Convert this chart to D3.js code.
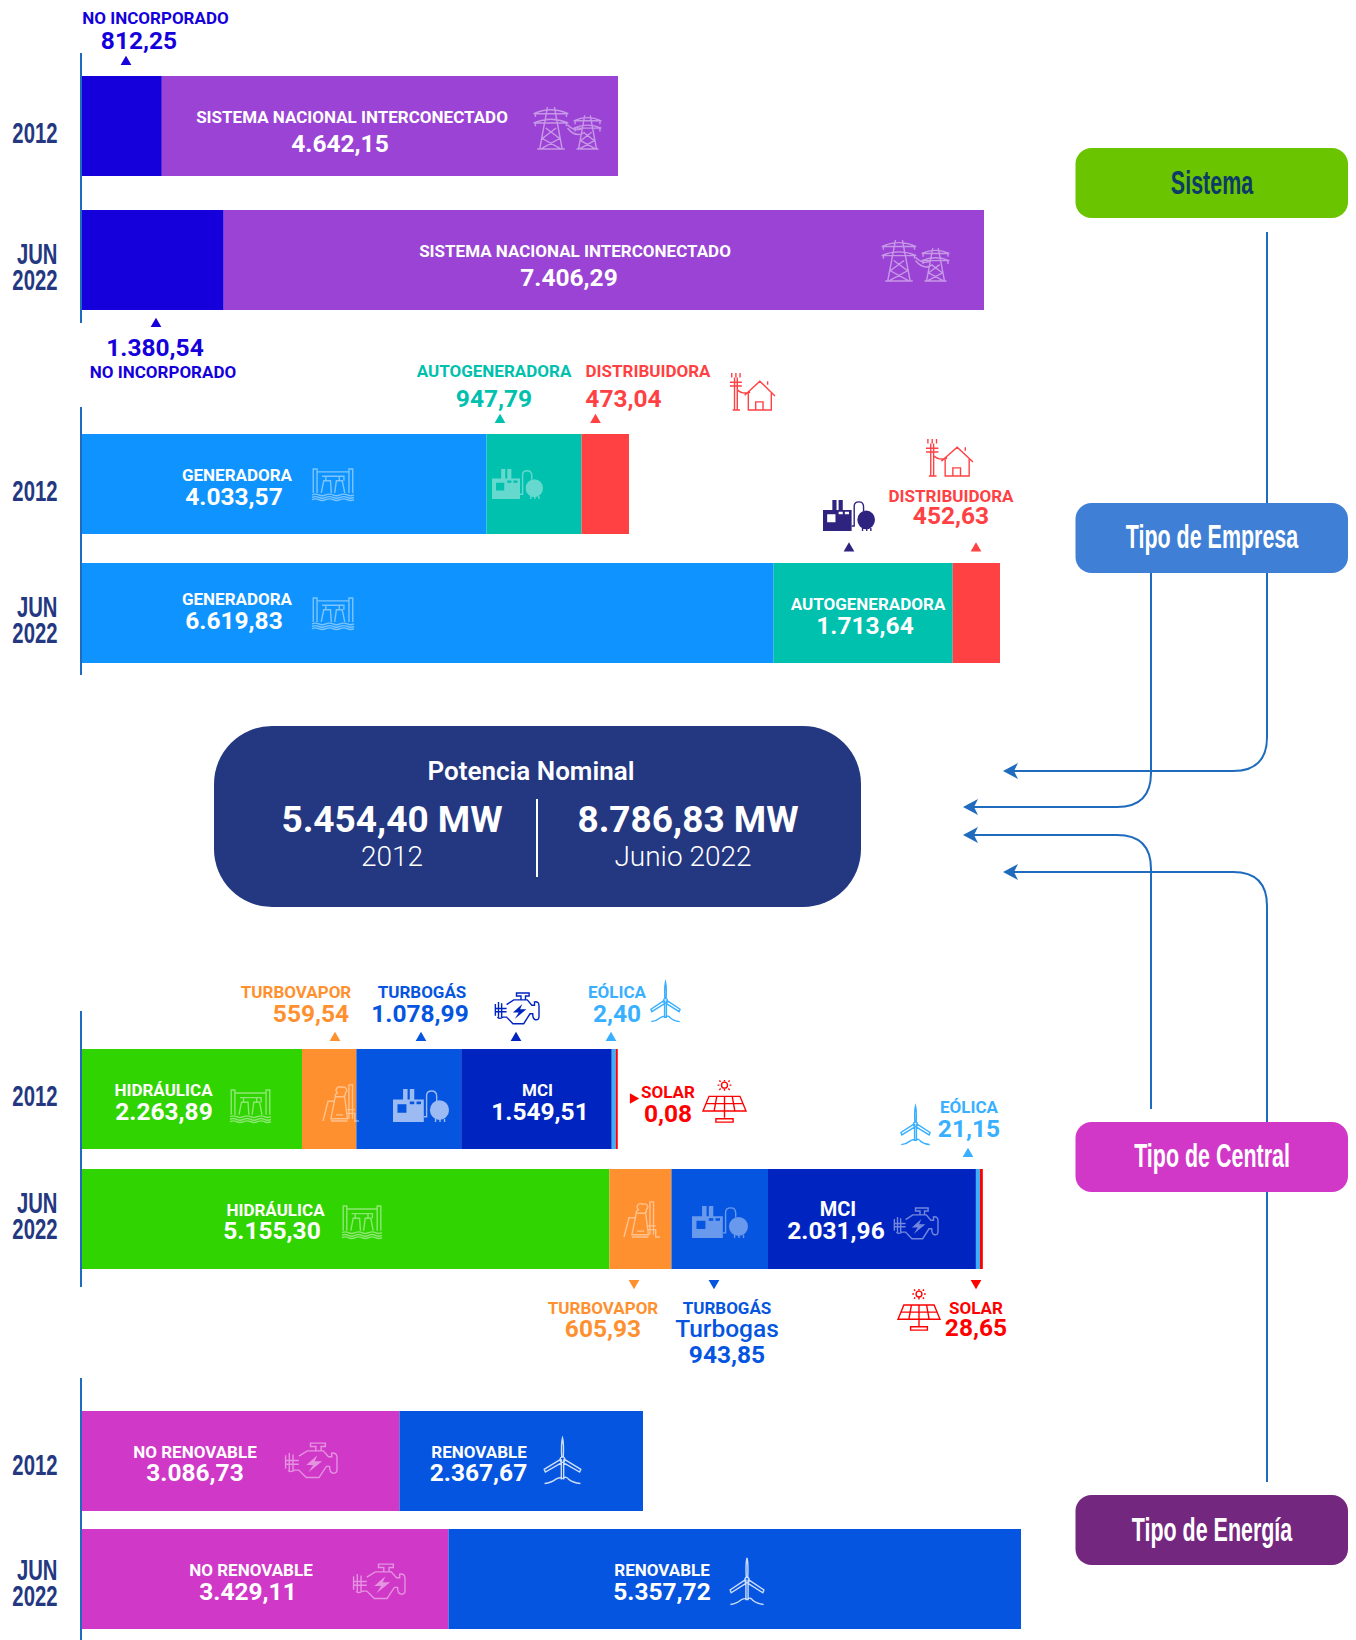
<!DOCTYPE html>
<html>
<head>
<meta charset="utf-8">
<script src="https://cdn.jsdelivr.net/npm/d3@7"></script>
<style>
    body { margin: 0; background: #fff; }
    text { font-family: Roboto, sans-serif; }
    .narrow { font-family: "Liberation Sans", sans-serif; font-weight: 700; }
</style>
</head>
<body>
<div id="chart"></div>
<script>
// values as printed on the chart (MW)
const years = ["2012", "JUN 2022"];
const totalLabels = ["2012", "Junio 2022"];
const totals = [5454.40, 8786.83];

const sistemaCats = ["NO INCORPORADO", "SISTEMA NACIONAL INTERCONECTADO"];
const sistema2012 = [812.25, 4642.15];
const sistema2022 = [1380.54, 7406.29];

const empresaCats = ["GENERADORA", "AUTOGENERADORA", "DISTRIBUIDORA"];
const empresa2012 = [4033.57, 947.79, 473.04];
const empresa2022 = [6619.83, 1713.64, 452.63];

const centralCats = ["HIDRÁULICA", "TURBOVAPOR", "TURBOGÁS", "MCI", "EÓLICA", "SOLAR"];
const central2012 = [2263.89, 559.54, 1078.99, 1549.51, 2.40, 0.08];
const central2022 = [5155.30, 605.93, 943.85, 2031.96, 21.15, 28.65];

const energiaCats = ["NO RENOVABLE", "RENOVABLE"];
const energia2012 = [3086.73, 2367.67];
const energia2022 = [3429.11, 5357.72];

const buttonLabels = ["Sistema", "Tipo de Empresa", "Tipo de Central", "Tipo de Energía"];

// dimensional constants
const svgwidth = 1356;
const svgheight = 1640;
const barLeft = 82;
const barHeight = 100;

const navy = "#243882";
const lineBlue = "#1f6bbd";
const colors = {
    "NO INCORPORADO": "#1500dc", "SISTEMA NACIONAL INTERCONECTADO": "#9a43d4",
    "GENERADORA": "#0f94ff", "AUTOGENERADORA": "#00c0ae", "DISTRIBUIDORA": "#ff4144",
    "HIDRÁULICA": "#30d400", "TURBOVAPOR": "#ff9030", "TURBOGÁS": "#0555e0", "MCI": "#0024c0", "EÓLICA": "#38b0ff", "SOLAR": "#ff0000",
    "NO RENOVABLE": "#d038c8", "RENOVABLE": "#0555e0"
};
// the chart does not share one scale between rows, every row has its own length
const panels = [
    {cats: sistemaCats, rows: [sistema2012, sistema2022], y: [76, 310], axis: [53, 323], right: [618, 984], yearShift: 0},
    {cats: empresaCats, rows: [empresa2012, empresa2022], y: [434, 663], axis: [407, 675], right: [629, 1000], yearShift: 0},
    {cats: centralCats, rows: [central2012, central2022], y: [1049, 1269], axis: [1011, 1287], right: [612, 981], yearShift: -10},
    {cats: energiaCats, rows: [energia2012, energia2022], y: [1411, 1629], axis: [1378, 1640], right: [643, 1021], yearShift: -3}
];
// eolica and solar would be under a pixel wide in 2012, keep them visible
const minWidth = {"EÓLICA": 4, "SOLAR": 2};

const fmt = d3.formatLocale({decimal: ",", thousands: ".", grouping: [3], currency: ["", ""]}).format(",.2f");

const svg = d3.select("#chart").append("svg")
    .attr("width", svgwidth)
    .attr("height", svgheight);

// connector lines go under the buttons
const links = svg.append("g").attr("fill", "none").attr("stroke", lineBlue).attr("stroke-width", 2);
const linkPath = (x, y0, y1, tip, r) => {
    let dir = y1 > y0 ? 1 : -1;
    let path = d3.path();
    path.moveTo(x, y0);
    path.lineTo(x, y1 - dir * r);
    path.quadraticCurveTo(x, y1, x - r, y1);
    path.lineTo(tip + 8, y1);
    return path.toString();
};
const linkDefs = [
    [1267, 232, 771, 1003, 34],
    [1151, 573, 807, 963, 34],
    [1151, 1109, 835, 963, 34],
    [1267, 1482, 872, 1003, 34]
];
linkDefs.forEach(l => {
    links.append("path").attr("d", linkPath(l[0], l[1], l[2], l[3], l[4]));
    svg.append("path")
        .attr("d", "M0,0 L15,-8 L11,0 L15,8 Z")
        .attr("transform", `translate(${l[3]},${l[2]})`)
        .attr("fill", lineBlue);
});

// bars, one scale per row
panels.forEach(panel => {
    let yScale = d3.scaleBand()
        .domain(years)
        .range(panel.y)
        .paddingInner(1 - barHeight / ((panel.y[1] - panel.y[0] - barHeight)));

    panel.rows.forEach((values, r) => {
        let xScale = d3.scaleLinear()
            .domain([0, d3.sum(values)])
            .range([barLeft, panel.right[r]]);
        let x = barLeft;
        let segs = values.map((v, i) => {
            let w = Math.max(xScale(v) - barLeft, minWidth[panel.cats[i]] || 0);
            let s = {cat: panel.cats[i], x: x, w: w};
            x += w;
            return s;
        });
        svg.append("g").selectAll("rect")
            .data(segs)
            .enter().append("rect")
            .attr("x", d => d.x)
            .attr("y", yScale(years[r]))
            .attr("width", d => d.w)
            .attr("height", yScale.bandwidth())
            .attr("fill", d => colors[d.cat]);
    });

    // year axis
    let axis = svg.append("g")
        .attr("transform", `translate(${barLeft - 1},0)`)
        .call(d3.axisLeft(yScale).tickSize(0).tickPadding(25));
    axis.select(".domain").remove();
    axis.selectAll("text").each(function (d) {
        let t = d3.select(this).text(null)
            .attr("class", "narrow")
            .attr("fill", navy)
            .style("font-size", "29px")
            .attr("dy", null)
            .attr("x", null);
        let parts = d.split(" ");
        t.attr("transform", `translate(-23.5,${panel.yearShift}) scale(0.7,1)`);
        parts.forEach((p, i) => {
            t.append("tspan")
                .attr("x", 0)
                .attr("y", (parts.length == 1 ? 17 : 4 + i * 26))
                .text(p);
        });
    });
    svg.append("line")
        .attr("x1", barLeft - 1).attr("x2", barLeft - 1)
        .attr("y1", panel.axis[0]).attr("y2", panel.axis[1])
        .attr("stroke", lineBlue).attr("stroke-width", 2);
});

// text helper
function label(txt, x, y, color, size, weight) {
    svg.append("text")
        .text(txt)
        .attr("x", x)
        .attr("y", y)
        .attr("text-anchor", "middle")
        .attr("fill", color)
        .style("font-size", size + "px")
        .style("font-weight", weight);
}
const catSize = 17, valSize = 24.5;
const catLabel = (cat, x, y, color) => label(cat, x, y, color, catSize, 700);
const valLabel = (v, x, y, color) => label(fmt(v), x, y, color, valSize, 700);
const white = "#fff";

function tri(x, y, color, rot) {
    svg.append("path")
        .attr("d", d3.symbol().type(d3.symbolTriangle).size(50)())
        .attr("transform", `translate(${x},${y}) rotate(${rot || 0})`)
        .attr("fill", color);
}

// sistema
catLabel(sistemaCats[0], 155.5, 24, colors[sistemaCats[0]]);
valLabel(sistema2012[0], 139, 49, colors[sistemaCats[0]]);
tri(126, 62, colors[sistemaCats[0]]);
catLabel(sistemaCats[1], 352, 123, white);
valLabel(sistema2012[1], 340, 152, white);
catLabel(sistemaCats[1], 575, 257, white);
valLabel(sistema2022[1], 569, 286, white);
tri(156, 324, colors[sistemaCats[0]]);
valLabel(sistema2022[0], 155, 356, colors[sistemaCats[0]]);
catLabel(sistemaCats[0], 163, 378, colors[sistemaCats[0]]);

// empresa
catLabel(empresaCats[1], 494, 377, colors[empresaCats[1]]);
valLabel(empresa2012[1], 494, 407, colors[empresaCats[1]]);
tri(500, 420, colors[empresaCats[1]]);
catLabel(empresaCats[2], 648, 377, colors[empresaCats[2]]);
valLabel(empresa2012[2], 623.5, 407, colors[empresaCats[2]]);
tri(595.5, 420, colors[empresaCats[2]]);
catLabel(empresaCats[0], 237, 481, white);
valLabel(empresa2012[0], 234, 505, white);
catLabel(empresaCats[0], 237, 605, white);
valLabel(empresa2022[0], 234, 629, white);
catLabel(empresaCats[1], 868, 610, white);
valLabel(empresa2022[1], 865, 634, white);
tri(849, 548.5, "#2e2480");
catLabel(empresaCats[2], 951, 502, colors[empresaCats[2]]);
valLabel(empresa2022[2], 951, 524, colors[empresaCats[2]]);
tri(976, 548.5, colors[empresaCats[2]]);

// central, 2012
catLabel(centralCats[0], 163.5, 1096, white);
valLabel(central2012[0], 164, 1120, white);
catLabel(centralCats[1], 296, 998, colors[centralCats[1]]);
valLabel(central2012[1], 311, 1022, colors[centralCats[1]]);
tri(335, 1038, colors[centralCats[1]]);
catLabel(centralCats[2], 422, 998, colors[centralCats[2]]);
valLabel(central2012[2], 420, 1022, colors[centralCats[2]]);
tri(421, 1038, colors[centralCats[2]]);
tri(516, 1038, colors[centralCats[3]]);
catLabel(centralCats[3], 537.5, 1096, white);
valLabel(central2012[3], 540, 1120, white);
catLabel(centralCats[4], 617, 998, colors[centralCats[4]]);
valLabel(central2012[4], 617, 1022, colors[centralCats[4]]);
tri(611, 1038, colors[centralCats[4]]);
tri(633, 1098.5, colors[centralCats[5]], 90);
catLabel(centralCats[5], 668, 1098, colors[centralCats[5]]);
valLabel(central2012[5], 668, 1122, colors[centralCats[5]]);

// central, 2022
catLabel(centralCats[0], 275.5, 1216, white);
valLabel(central2022[0], 272, 1239, white);
label(centralCats[3], 838, 1216, white, 20, 700);
valLabel(central2022[3], 836, 1239, white);
catLabel(centralCats[4], 969, 1113, colors[centralCats[4]]);
valLabel(central2022[4], 969, 1137, colors[centralCats[4]]);
tri(968, 1154, colors[centralCats[4]]);
tri(634, 1283, colors[centralCats[1]], 180);
catLabel(centralCats[1], 603, 1314, colors[centralCats[1]]);
valLabel(central2022[1], 603, 1337, colors[centralCats[1]]);
tri(714, 1283, colors[centralCats[2]], 180);
catLabel(centralCats[2], 727, 1314, colors[centralCats[2]]);
label("Turbogas", 727, 1337, colors[centralCats[2]], valSize, 500);
valLabel(central2022[2], 727, 1363, colors[centralCats[2]]);
tri(976, 1283, colors[centralCats[5]], 180);
catLabel(centralCats[5], 976, 1314, colors[centralCats[5]]);
valLabel(central2022[5], 976, 1336, colors[centralCats[5]]);

// energia
catLabel(energiaCats[0], 195, 1458, white);
valLabel(energia2012[0], 195, 1481, white);
catLabel(energiaCats[1], 479, 1458, white);
valLabel(energia2012[1], 478.5, 1481, white);
catLabel(energiaCats[0], 251, 1576, white);
valLabel(energia2022[0], 248, 1600, white);
catLabel(energiaCats[1], 662, 1576, white);
valLabel(energia2022[1], 662, 1600, white);

// central box
svg.append("rect")
    .attr("x", 214).attr("y", 726)
    .attr("width", 647).attr("height", 181)
    .attr("rx", 58).attr("ry", 58)
    .attr("fill", navy);
svg.append("line")
    .attr("x1", 537).attr("x2", 537)
    .attr("y1", 799).attr("y2", 877)
    .attr("stroke", white).attr("stroke-width", 2);
label("Potencia Nominal", 531, 780, white, 26, 600);
label(fmt(totals[0]) + " MW", 392, 832, white, 37, 700);
label(totalLabels[0], 392, 866, white, 28, 300);
label(fmt(totals[1]) + " MW", 688, 832, white, 37, 700);
label(totalLabels[1], 683, 866, white, 28, 300);

// side buttons
const buttons = [
    {y: 148, fill: "#6bc400", text: "#0b3b66", base: 194},
    {y: 503, fill: "#3f80d6", text: white, base: 548},
    {y: 1122, fill: "#d238c8", text: white, base: 1167},
    {y: 1495, fill: "#74277f", text: white, base: 1541}
];
buttons.forEach((b, i) => {
    svg.append("rect")
        .attr("x", 1075.5).attr("y", b.y)
        .attr("width", 272.5).attr("height", 70)
        .attr("rx", 16).attr("ry", 16)
        .attr("fill", b.fill);
    svg.append("text")
        .text(buttonLabels[i])
        .attr("class", "narrow")
        .attr("text-anchor", "middle")
        .attr("transform", `translate(1212,${b.base}) scale(0.65,1)`)
        .attr("fill", b.text)
        .style("font-size", "33px");
});

// icons, drawn in a 100x100 box and stretched into place
function pylon(cx, t, h, hw) {
    let b = t + h;
    return `M${cx - hw},${t + .16 * h} Q${cx},${t - .03 * h} ${cx + hw},${t + .16 * h} Z` +
        `M${cx - hw},${t + .38 * h} Q${cx},${t + .2 * h} ${cx + hw},${t + .38 * h} Z` +
        `M${cx - .2 * hw},${t} L${cx - .65 * hw},${b} M${cx + .2 * hw},${t} L${cx + .65 * hw},${b}` +
        `M${cx - .8 * hw},${b} H${cx + .8 * hw}` +
        `M${cx - .3 * hw},${t + .5 * h} L${cx + .5 * hw},${t + .75 * h} L${cx - .55 * hw},${b - 1} M${cx + .3 * hw},${t + .5 * h} L${cx - .5 * hw},${t + .75 * h} L${cx + .55 * hw},${b - 1}` +
        `M${cx - .9 * hw},${t + .16 * h} v8 M${cx + .9 * hw},${t + .16 * h} v8 M${cx - .9 * hw},${t + .38 * h} v8 M${cx + .9 * hw},${t + .38 * h} v8`;
}
const iconPaths = {
    towers: [{d: pylon(26, 0, 100, 25) + pylon(79, 20, 80, 20) + "M50,50 Q62,75 75,60 M50,42 Q62,62 72,50"}],
    house: [{d: "M12,100 V12 M18,100 V12 M2,25 H28 M2,35 H28 M6,0 v12 M15,0 v12 M24,0 v12 M8,100 H24 M18,45 Q28,58 46,52 M34,60 L67,22 L100,62 M84,32 V22 M42,52 V100 H92 V52 M58,100 V78 H74 V100"}],
    factory: [
        {d: "M0,32 H18 V0 H26 V32 H30 V0 H38 V32 H55 V100 H0 Z M8,46 V72 H24 V46 Z M30,38 V46 H38 V38 Z M42,38 V46 H50 V38 Z M66,64 a17,30 0 1,0 34,0 a17,30 0 1,0 -34,0 Z", fill: true},
        {d: "M55,84 H60 V20 Q60,6 69,6 Q78,6 78,22 V36 M76,90 V100 M84,92 V100 M92,90 V100"}
    ],
    hydro: [{d: "M3,78 V3 H12 V78 M88,78 V3 H97 V78 M12,12 H88 M22,78 L28,40 H44 L46,78 M54,78 L58,40 H72 L78,78 M24,26 H76 V40 M33,40 V26 M65,40 V26 M0,84 q8,-5 16,0 t17,0 t17,0 t17,0 t17,0 t16,0 M0,92 q8,-5 16,0 t17,0 t17,0 t17,0 t17,0 t16,0 M0,99 q8,-5 16,0 t17,0 t17,0 t17,0 t17,0 t16,0"}],
    turbovapor: [{d: "M40,26 a8,8 0 1,1 12,-14 a8,8 0 1,1 10,14 Q64,34 56,36 H36 Q30,32 40,26 Z M34,36 H60 L68,94 H22 Z M0,100 L14,48 H30 M22,100 H68 M36,84 H56 M72,94 V5 H82 V94 M64,70 H88 M64,80 H88 V100 H100"}],
    engine: [
        {d: "M50,3 H78 V12 H70 V24 H60 V12 H50 Z M28,38 L44,24 H74 L84,40 H90 V30 Q100,28 100,42 V74 Q100,86 92,84 Q86,82 86,66 H80 L66,96 H42 L28,76 H20 Q10,84 8,76 M3,36 V72 M10,30 V80 M17,34 V76 M3,50 H28 M3,60 H28"},
        {d: "M63,36 L42,62 H55 L46,82 L72,52 H58 Z", fill: true}
    ],
    wind: [{d: "M47,46 V90 M53,46 V90 M48,42 Q46,12 50,0 Q54,12 52,42 M46,46 L3,68 L6,74 L47,54 M54,46 L97,68 L94,74 L53,54 M4,99 Q22,97 32,90 Q42,84 50,88 Q60,82 66,90 Q76,97 96,99 M44,47 a6,6 0 1,0 12,0 a6,6 0 1,0 -12,0"}],
    solar: [
        {d: "M14,38 H86 L100,72 H0 Z M32,38 L26,72 M50,38 V72 M68,38 L74,72 M8,55 H92 M50,72 V88 M30,90 H70 V98 H30 Z"},
        {d: "M43,12 a7,7 0 1,0 14,0 a7,7 0 1,0 -14,0 M50,0 v3 M50,21 v4 M38,12 h-4 M62,12 h4 M41,4 l-3,-3 M59,4 l3,-3 M41,20 l-3,3 M59,20 l3,3"}
    ]
};
function icon(name, x0, y0, x1, y1, color, opacity) {
    let g = svg.append("g")
        .attr("transform", `translate(${x0},${y0}) scale(${(x1 - x0) / 100},${(y1 - y0) / 100})`)
        .attr("opacity", opacity || 1);
    iconPaths[name].forEach(p => {
        g.append("path")
            .attr("d", p.d)
            .attr("fill", p.fill ? color : "none")
            .attr("fill-rule", "evenodd")
            .attr("stroke", p.fill ? "none" : color)
            .attr("stroke-width", 1.4)
            .attr("vector-effect", "non-scaling-stroke");
    });
}
const soft = 0.45;
icon("towers", 533, 107, 602, 149, white, soft);
icon("towers", 881, 240, 950, 281, white, soft);
icon("house", 729, 373, 775, 410, colors[empresaCats[2]]);
icon("hydro", 312, 468, 354, 500, white, soft);
icon("factory", 492, 469, 543, 499, white, 0.4);
icon("factory", 823, 500, 875, 531, "#2e2480");
icon("house", 925, 439, 973, 476, colors[empresaCats[2]]);
icon("hydro", 312, 597, 354, 629, white, soft);
icon("hydro", 230, 1089, 271, 1122, white, soft);
icon("turbovapor", 323, 1083, 359, 1121, white, soft);
icon("factory", 393, 1089, 449, 1122, white, 0.6);
icon("engine", 494, 992, 539, 1025, colors["MCI"]);
icon("wind", 650, 982, 681, 1022, colors["EÓLICA"]);
icon("solar", 703, 1080, 746, 1123, colors["SOLAR"]);
icon("hydro", 342, 1205, 382, 1238, white, soft);
icon("turbovapor", 624, 1200, 660, 1237, white, soft);
icon("factory", 692, 1206, 748, 1238, white, 0.4);
icon("engine", 893, 1207, 938, 1240, white, soft);
icon("wind", 900, 1106, 931, 1145, colors["EÓLICA"]);
icon("solar", 898, 1289, 940, 1331, colors["SOLAR"]);
icon("engine", 284, 1442, 337, 1479, white, soft);
icon("wind", 543, 1438, 582, 1484, white, 0.8);
icon("engine", 352, 1563, 405, 1600, white, soft);
icon("wind", 729, 1558, 765, 1605, white, 0.8);
</script>
</body>
</html>
